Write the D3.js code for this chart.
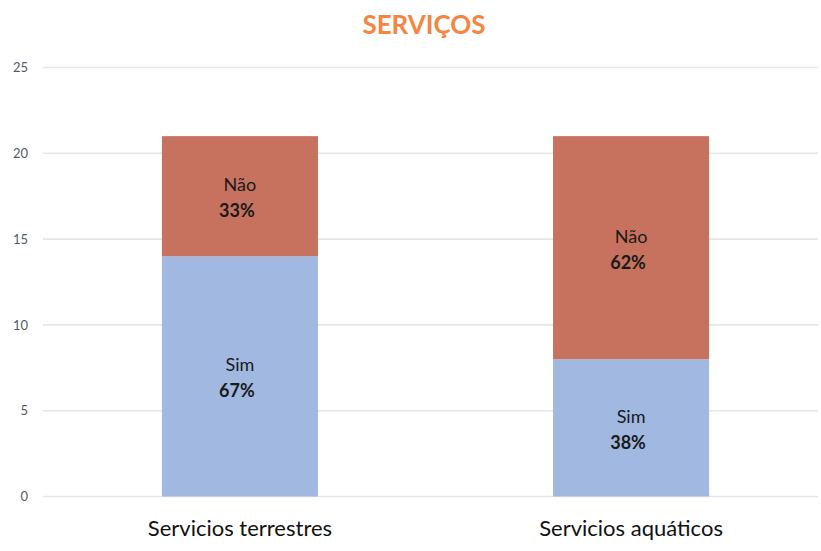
<!DOCTYPE html>
<html>
<head>
<meta charset="utf-8">
<script src="https://cdn.jsdelivr.net/npm/d3@7"></script>
<style>
  html, body { margin: 0; padding: 0; background: #ffffff; }
  svg { display: block; }
</style>
</head>
<body>
<svg id="chart" width="821" height="551"></svg>
<script>
// Services survey: counts of "Sim" / "Não" answers per service type
const categories = ["Servicios terrestres", "Servicios aquáticos"];
const seriesNames = ["Sim", "Não"];
const simValues = [14, 8];
const naoValues = [7, 13];
const yTicks = [0, 5, 10, 15, 20, 25];
const titleText = "SERVIÇOS";

const colors = { "Sim": "#A1B8E1", "Não": "#C7725E" };

const svg = d3.select("#chart");
const W = 821, H = 551;
const plotLeft = 43;

const rows = categories.map((c, i) => ({ category: c, "Sim": simValues[i], "Não": naoValues[i] }));
const stacked = d3.stack().keys(seriesNames)(rows);

const x = d3.scaleBand()
  .domain(categories)
  .range([plotLeft, 828])
  .paddingInner(0.601)
  .paddingOuter(0.304);

const y = d3.scaleLinear()
  .domain([0, 25])
  .range([496.5, 67.5]);

// gridlines
svg.append("g")
  .selectAll("line")
  .data(yTicks)
  .join("line")
  .attr("x1", plotLeft)
  .attr("x2", W - 3)
  .attr("y1", d => y(d))
  .attr("y2", d => y(d))
  .attr("stroke", "#e6e6e6")
  .attr("stroke-width", 1.6);

// y axis labels
const yAxis = d3.axisLeft(y).tickValues(yTicks).tickSize(0).tickPadding(0);
const yg = svg.append("g")
  .attr("transform", "translate(28,0)")
  .call(yAxis);
yg.select(".domain").remove();
yg.selectAll("text")
  .attr("font-family", "Lato, 'Open Sans', sans-serif")
  .attr("font-size", 13)
  .attr("fill", "#555b66");

// stacked bars
const layers = svg.append("g")
  .selectAll("g")
  .data(stacked)
  .join("g")
  .attr("fill", d => colors[d.key]);

layers.selectAll("rect")
  .data(d => d.map(p => ({ key: d.key, p })))
  .join("rect")
  .attr("x", d => x(d.p.data.category))
  .attr("width", x.bandwidth())
  .attr("y", d => y(d.p[1]))
  .attr("height", d => y(d.p[0]) - y(d.p[1]));

// segment labels: name + share of bar total
const labelData = [];
stacked.forEach(layer => {
  layer.forEach(p => {
    const total = p.data["Sim"] + p.data["Não"];
    const v = p[1] - p[0];
    labelData.push({
      key: layer.key,
      cx: x(p.data.category) + x.bandwidth() / 2,
      cy: (y(p[0]) + y(p[1])) / 2,
      pct: Math.round(v / total * 100) + "%"
    });
  });
});

const lg = svg.append("g")
  .attr("font-family", "Lato, 'Open Sans', sans-serif")
  .attr("text-anchor", "middle")
  .attr("fill", "#1a1a1a");

lg.selectAll("text.name")
  .data(labelData)
  .join("text")
  .attr("class", "name")
  .attr("x", d => d.cx)
  .attr("y", d => d.cy - 5)
  .attr("font-size", 18)
  .text(d => d.key);

lg.selectAll("text.pct")
  .data(labelData)
  .join("text")
  .attr("class", "pct")
  .attr("x", d => d.cx - 3)
  .attr("y", d => d.cy + 21)
  .attr("font-size", 18)
  .attr("font-weight", "bold")
  .text(d => d.pct);

// category axis labels
const xAxis = d3.axisBottom(x).tickSize(0).tickPadding(0);
const xg = svg.append("g")
  .attr("transform", "translate(0,520)")
  .call(xAxis);
xg.select(".domain").remove();
xg.selectAll("text")
  .attr("font-family", "Lato, 'Open Sans', sans-serif")
  .attr("font-size", 22)
  .attr("fill", "#111")
  .attr("dy", "0.71em");

// title
svg.append("text")
  .attr("x", 424)
  .attr("y", 34)
  .attr("text-anchor", "middle")
  .attr("font-family", "Lato, 'Open Sans', sans-serif")
  .attr("font-weight", "bold")
  .attr("font-size", 26)
  .attr("fill", "#F7843F")
  .text(titleText);
</script>
</body>
</html>
